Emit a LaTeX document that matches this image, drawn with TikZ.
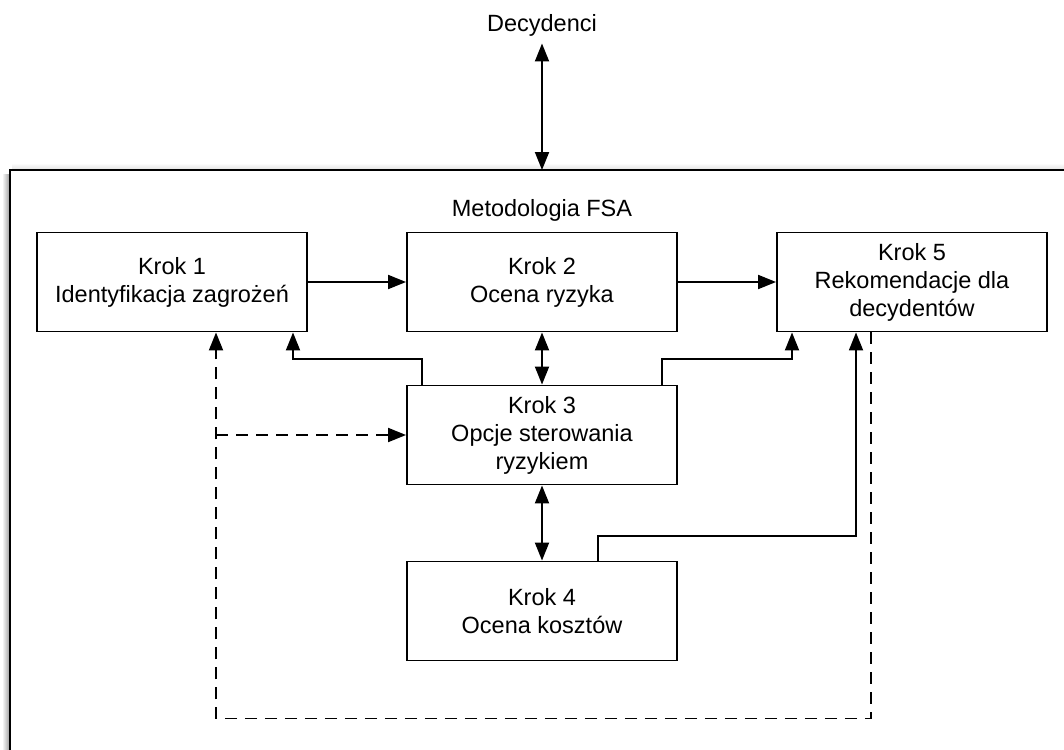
\documentclass[tikz,border=0pt]{standalone}
\usepackage{fontspec}
\setmainfont{Liberation Sans}
\usetikzlibrary{arrows.meta,positioning}

\begin{document}
\begin{tikzpicture}[x=1pt,y=-1pt,
        font=\fontsize{23.5}{28}\selectfont,
        krok/.style={rectangle,draw,line width=1.9pt,minimum width=270pt,
          minimum height=99pt,align=center,inner sep=0pt},
        arr/.style={line width=1.9pt,-{Triangle[length=18pt,width=14pt]}},
        twoarr/.style={line width=1.9pt,{Triangle[length=18pt,width=14pt]}-{Triangle[length=18pt,width=14pt]}},
        dasharr/.style={arr,dash pattern=on 12pt off 8pt}]

        \useasboundingbox (0,0) rectangle (1064,749);

        % outer frame with its shadow
        \fill[left color=white,right color=black!40] (2,174) rectangle (10,749);
        \fill[top color=white,bottom color=black!12] (12,163) rectangle (1064,170);
        \draw[line width=2.4pt] (10,170) rectangle (1080,770);
        \coordinate (fsa top) at (542,170);

        \node (dec) at (542,25) {Decydenci};
        \node (fsa) at (542,210) {Metodologia FSA};

        \node[krok] (k1) at (172,282) {Krok 1\\Identyfikacja zagrożeń};
        \node[krok] (k2) at (542,282) {Krok 2\\Ocena ryzyka};
        \node[krok] (k5) at (912,282) {Krok 5\\Rekomendacje dla\\decydentów};
        \node[krok] (k3) at (542,435) {Krok 3\\Opcje sterowania\\ryzykiem};
        \node[krok] (k4) at (542,611) {Krok 4\\Ocena kosztów};

        \draw[twoarr] ([yshift=-4pt]dec.south) -- (fsa top);
        \draw[arr] (k1) -- (k2);
        \draw[arr] (k2) -- (k5);
        \draw[twoarr] (k2) -- (k3);
        \draw[twoarr] (k3) -- (k4);

        \draw[arr] ([xshift=-120pt]k3.north) -- ++(0,-26) -| ([xshift=121pt]k1.south);
        \draw[arr] ([xshift=120pt]k3.north) -- ++(0,-26) -| ([xshift=-120pt]k5.south);
        \draw[arr] ([xshift=56pt]k4.north) -- ++(0,-25) -| ([xshift=-56pt]k5.south);

        % dashed feedback
        \draw[dasharr] ([xshift=-41pt]k5.south) -- ++(0,386) -| ([xshift=44pt]k1.south);
        \coordinate (jn) at (216,435);
        \draw[dasharr] (jn) -- (k3.west);
\end{tikzpicture}
\end{document}
